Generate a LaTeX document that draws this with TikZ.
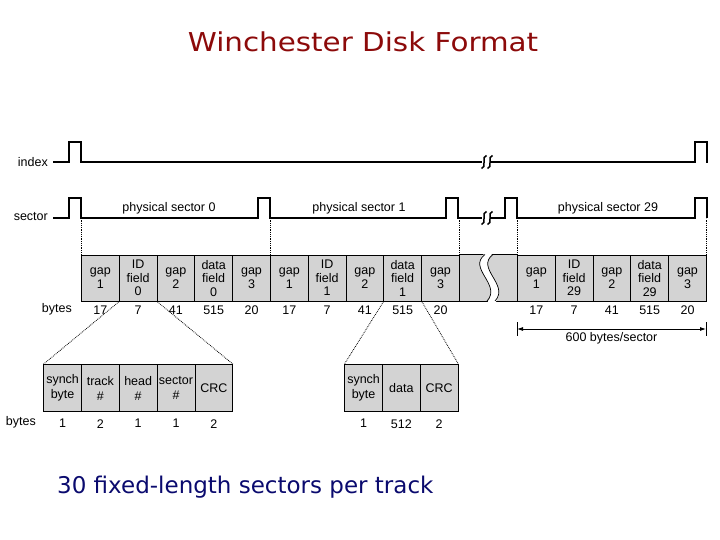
\documentclass[tikz,border=0pt]{standalone}
\usepackage{fontspec}
\setmainfont{Liberation Sans}
\newfontfamily\titlefont[FakeStretch=1.13]{DejaVu Sans}
\newfontfamily\notefont{DejaVu Sans}
\usetikzlibrary{arrows.meta, positioning}
\definecolor{titlered}{RGB}{140,10,10}
\definecolor{notenavy}{RGB}{10,10,110}
\definecolor{cellgray}{RGB}{211,211,211}

\begin{document}
\begin{tikzpicture}[x=1pt, y=-1pt,
  cell/.style={draw, line width=0.8pt, fill=cellgray, minimum width=37.8pt,
    minimum height=46.5pt, inner sep=0pt, anchor=north west, align=center,
    font=\fontsize{12.5}{13.5}\selectfont},
  num/.style={inner sep=0pt, font=\fontsize{12.5}{13}\selectfont},
  wave/.style={line width=1.2pt},
  guide/.style={densely dotted, line width=0.8pt}]
  \useasboundingbox (0,0) rectangle (720,540);
  % title
  \node[titlered, anchor=base, font=\titlefont\fontsize{26}{30}\selectfont] (title) at (363,52) {Winchester Disk Format};
  % index line
  \node[num, anchor=east] (indexlbl) at (48,162) {index};
  \draw[wave] (53,162) -- (69,162) -- (69,142) -- (81,142) -- (81,162) -- (482,162);
  \draw[wave] (491,162) -- (695,162) -- (695,142) -- (707,142) -- (707,163);
  % sector line
  \node[num, anchor=east] (sectorlbl) at (48,217) {sector};
  \draw[wave] (53,218) -- (69,218) -- (69,198) -- (81,198) -- (81,218) -- (258,218) -- (258,198)
    -- (270,198) -- (270,218) -- (446,218) -- (446,198) -- (458,198) -- (458,218) -- (482,218);
  \draw[wave] (491,218) -- (505,218) -- (505,198) -- (517,198) -- (517,218) -- (695,218)
    -- (695,198) -- (707,198) -- (707,218);
  % break marks
  \foreach \by in {162,218}
    \foreach \bx in {484,490}
      \draw[line width=1.5pt] ({\bx+2.5},{\by-6.5}) .. controls ({\bx-3.5},{\by-6}) and ({\bx+3.5},{\by+6}) .. ({\bx-2.5},{\by+6.5});
  \node[num] (ps0) at (169,208) {physical sector 0};
  \node[num] (ps1) at (359,208) {physical sector 1};
  \node[num] (ps29) at (608,208) {physical sector 29};
  % track strip
  \draw[line width=0.8pt, fill=cellgray] (459,254.5) rectangle (517,301);
  \foreach \sx/\sn/\sname in {81/0/a, 270/1/b, 517/29/c} {
    \foreach \lbl [count=\i from 0] in {gap\\1, ID\\field\\\sn, gap\\2, data\\field\\\sn, gap\\3}
      \node[cell] (\sname\i) at ({\sx+37.8*\i},254.5) {\lbl};
    \foreach \n [count=\i from 0] in {17,7,41,515,20}
      \node[num, below=4pt of \sname\i] {\n};
  }
  % torn part
  \fill[white] (485,253) .. controls (467,268) and (502,285) .. (487,303) -- (495,303)
    .. controls (510,285) and (475,268) .. (493,253) -- cycle;
  \draw[line width=0.7pt] (485,254.5) .. controls (467,268) and (502,285) .. (487,301);
  \draw[line width=0.7pt] (493,254.5) .. controls (475,268) and (510,285) .. (495,301);
  \node[num, anchor=east] (bytes1) at (72,309) {bytes};
  % guides to the sector pulses
  \draw[guide] (a0.north west) -- ++(0,-36);
  \draw[guide] (b0.north west) -- ++(0,-36);
  \draw[guide] (b4.north east) -- ++(0,-36);
  \draw[guide] (c0.north west) -- ++(0,-36);
  \draw[guide] (c4.north east) -- ++(0,-36);
  % 600 bytes per sector
  \coordinate (spanl) at (517,329);
  \coordinate (spanr) at (706,329);
  \draw[line width=0.6pt] (517,322) -- (517,336);
  \draw[line width=0.6pt] (706,322) -- (706,336);
  \draw[line width=0.8pt, {Latex[length=6pt,width=4pt]}-{Latex[length=6pt,width=4pt]}] (spanl) -- (spanr)
    node[midway, below, inner sep=3pt, font=\fontsize{12.5}{13}\selectfont] (span) {600 bytes/sector};
  % ID field detail
  \foreach \lbl [count=\i from 0] in {synch\\byte, track\\\#, head\\\#, sector\\\#, CRC}
    \node[cell, minimum height=47pt, font=\fontsize{12.5}{15}\selectfont] (d\i) at ({43.3+37.8*\i},364.3) {\lbl};
  \foreach \n [count=\i from 0] in {1,2,1,1,2}
    \node[num, below=7pt of d\i] {\n};
  % data field detail
  \foreach \lbl [count=\i from 0] in {synch\\byte, data, CRC}
    \node[cell, minimum height=47pt, font=\fontsize{12.5}{15}\selectfont] (e\i) at ({344.3+37.8*\i},364.3) {\lbl};
  \foreach \n [count=\i from 0] in {1,512,2}
    \node[num, below=7pt of e\i] {\n};
  \node[num, anchor=east] (bytes2) at (36,422) {bytes};
  % zoom lines
  \draw[guide] (a1.south west) -- (d0.north west);
  \draw[guide] (a1.south east) -- (d4.north east);
  \draw[guide] (b3.south west) -- (e0.north west);
  \draw[guide] (b3.south east) -- (e2.north east);
  % note
  \node[notenavy, anchor=base west, inner sep=0pt, font=\notefont\fontsize{23}{27}\selectfont] (note) at (57,493) {30 fixed-length sectors per track};
\end{tikzpicture}
\end{document}
